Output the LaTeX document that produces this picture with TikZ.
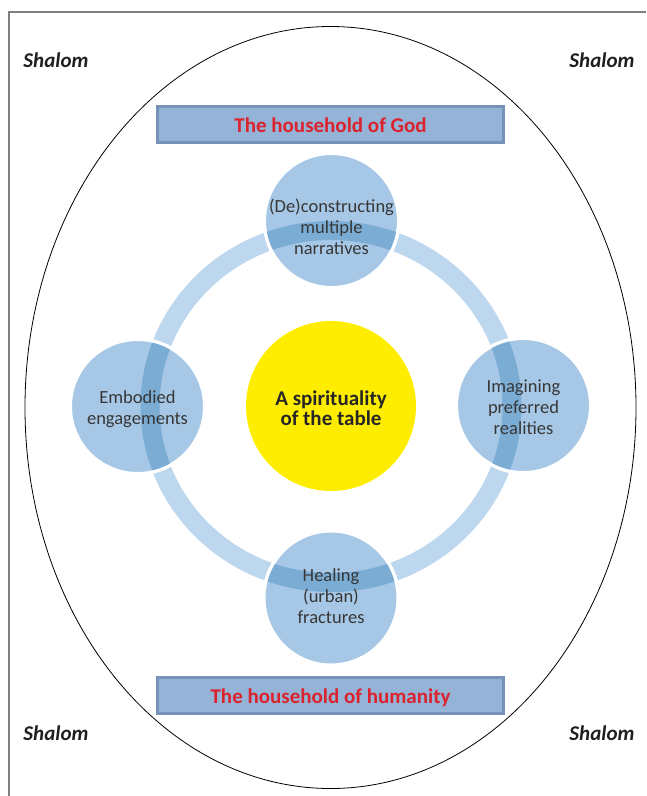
\documentclass[tikz,border=0pt]{standalone}
\usepackage{fontspec}
\setmainfont{Carlito}
\definecolor{ringlight}{RGB}{189,215,238}
\definecolor{ringdark}{RGB}{122,172,212}
\definecolor{circfill}{RGB}{166,200,230}
\definecolor{boxfill}{RGB}{149,179,215}
\definecolor{boxline}{RGB}{118,146,184}
\definecolor{labred}{RGB}{218,35,45}
\definecolor{sun}{RGB}{255,237,0}
\definecolor{framegray}{RGB}{128,128,128}
\definecolor{txt}{RGB}{55,55,55}
\begin{document}
\begin{tikzpicture}[x=1pt,y=-1pt,
  shalom/.style={font=\fontsize{21}{25}\selectfont\bfseries\itshape, text=black!88, inner sep=0},
  housebox/.style={draw=boxline, line width=3pt, fill=boxfill, minimum width=346, minimum height=36, inner sep=0, text height=17pt, text depth=0pt, font=\fontsize{21}{25}\selectfont\bfseries, text=labred},
  circ/.style={circle, fill=circfill, draw=white, line width=3.5pt, minimum size=134.5, inner sep=0},
  circtext/.style={align=center, font=\fontsize{18.5}{21}\selectfont, text=txt, inner sep=0},
  ringband/.style={line width=19pt},
]
\useasboundingbox (0,0) rectangle (646,796);
% outer ellipse
\coordinate (ectr) at (330.5,407.5);
\draw[black, line width=0.8pt] (ectr) ellipse [x radius=305.5, y radius=381];
% ring
\coordinate (ctr) at (331,406.5);
\draw[ringband, ringlight] (ctr) ellipse [x radius=181, y radius=176];
% centre
\node[circle, fill=sun, minimum size=170, inner sep=0] (sun) at (331,406) {};
\node[font=\fontsize{21}{20}\selectfont\bfseries, align=center, text=black!85, inner sep=0] (suntext) at (331,408) {A spirituality\\of the table};
% four circles
\node[circ] (cT) at (331.5,220.5) {};
\node[circ] (cL) at (137.5,406.5) {};
\node[circ] (cR) at (523.5,405.5) {};
\node[circ] (cB) at (331,598) {};
\foreach \p in {cT,cL,cR,cB}{
  \begin{scope}
    \clip (\p.center) circle [radius=65.5];
    \draw[ringband, ringdark] (ctr) ellipse [x radius=181, y radius=176];
  \end{scope}
}
\node[circtext] (tT) at (331.5,226.5) {(De)constructing\\multiple\\narratives};
\node[circtext] (tL) at (137.5,409.5) {Embodied\\engagements};
\node[circtext] (tR) at (523.5,407) {Imagining\\preferred\\realities};
\node[circtext] (tB) at (331,596) {Healing\\(urban)\\fractures};
% boxes
\node[housebox] (god) at (330.5,124) {The household of God};
\node[housebox] (hum) at (330.5,695) {The household of humanity};
% shalom
\node[shalom] (s1) at (56,60) {Shalom};
\node[shalom] (s2) at (602,60) {Shalom};
\node[shalom] (s3) at (56,733) {Shalom};
\node[shalom] (s4) at (602,733) {Shalom};
% frame
\draw[framegray, line width=1.3pt] (9,796) -- (9,12) -- (646,12);
\end{tikzpicture}
\end{document}
